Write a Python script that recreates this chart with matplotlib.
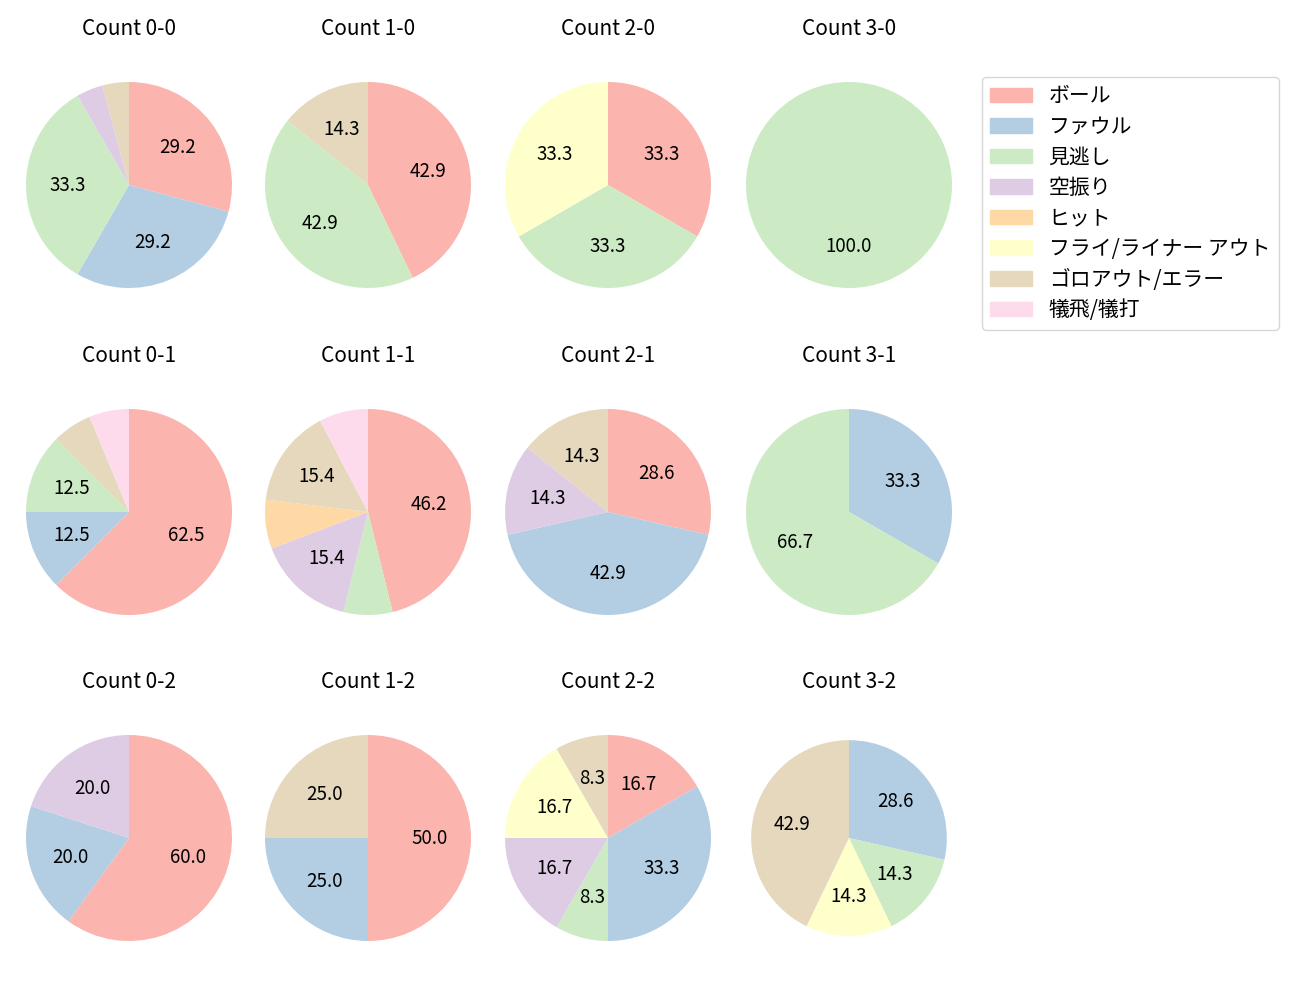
import matplotlib
matplotlib.use("Agg")
import matplotlib.pyplot as plt

plt.rcParams['font.family'] = ['Noto Sans CJK JP', 'DejaVu Sans']

# results per count, order follows the legend
categories = ["ボール", "ファウル", "見逃し", "空振り", "ヒット",
              "フライ/ライナー アウト", "ゴロアウト/エラー", "犠飛/犠打"]
colors = ['#fbb4ae', '#b3cde3', '#ccebc5', '#decbe4',
          '#fed9a6', '#ffffcc', '#e5d8bd', '#fddaec']

count_0_0 = [7, 7, 8, 1, 0, 0, 1, 0]
count_1_0 = [3, 0, 3, 0, 0, 0, 1, 0]
count_2_0 = [1, 0, 1, 0, 0, 1, 0, 0]
count_3_0 = [0, 0, 1, 0, 0, 0, 0, 0]
count_0_1 = [10, 2, 2, 0, 0, 0, 1, 1]
count_1_1 = [6, 0, 1, 2, 1, 0, 2, 1]
count_2_1 = [2, 3, 0, 1, 0, 0, 1, 0]
count_3_1 = [0, 1, 2, 0, 0, 0, 0, 0]
count_0_2 = [3, 1, 0, 1, 0, 0, 0, 0]
count_1_2 = [2, 1, 0, 0, 0, 0, 1, 0]
count_2_2 = [2, 4, 1, 2, 0, 2, 1, 0]
count_3_2 = [0, 2, 1, 0, 0, 1, 3, 0]

grid = [
    [("Count 0-0", count_0_0), ("Count 1-0", count_1_0), ("Count 2-0", count_2_0), ("Count 3-0", count_3_0)],
    [("Count 0-1", count_0_1), ("Count 1-1", count_1_1), ("Count 2-1", count_2_1), ("Count 3-1", count_3_1)],
    [("Count 0-2", count_0_2), ("Count 1-2", count_1_2), ("Count 2-2", count_2_2), ("Count 3-2", count_3_2)],
]

W, H = 1300, 1000
fig = plt.figure(figsize=(13, 10), dpi=100)

col_x = [129, 368, 608, 849]
row_y = [185, 512, 838]
r_px = 103
box = 2.5 * r_px

def autopct(p):
    return f'{p:.1f}' if p >= 8 else ''

for i, row in enumerate(grid):
    for j, (title, values) in enumerate(row):
        cx, cy = col_x[j], row_y[i]
        ax = fig.add_axes([(cx - box / 2) / W, 1 - (cy + box / 2) / H, box / W, box / H])
        radius = 0.95 if title == "Count 3-2" else 1.0
        wedges, texts, autotexts = ax.pie(values, colors=colors, startangle=90,
                                          counterclock=False, autopct=autopct,
                                          radius=radius,
                                          textprops={'fontsize': 13.5})
        ax.set_title(title, fontsize=15, pad=15)

handles = [plt.Rectangle((0, 0), 1, 1, color=c) for c in colors]
fig.legend(handles, categories, loc='upper left', bbox_to_anchor=(982 / W, 1 - 77 / H),
           fontsize=15, borderaxespad=0, labelspacing=0.41)

fig.savefig("out.png")
